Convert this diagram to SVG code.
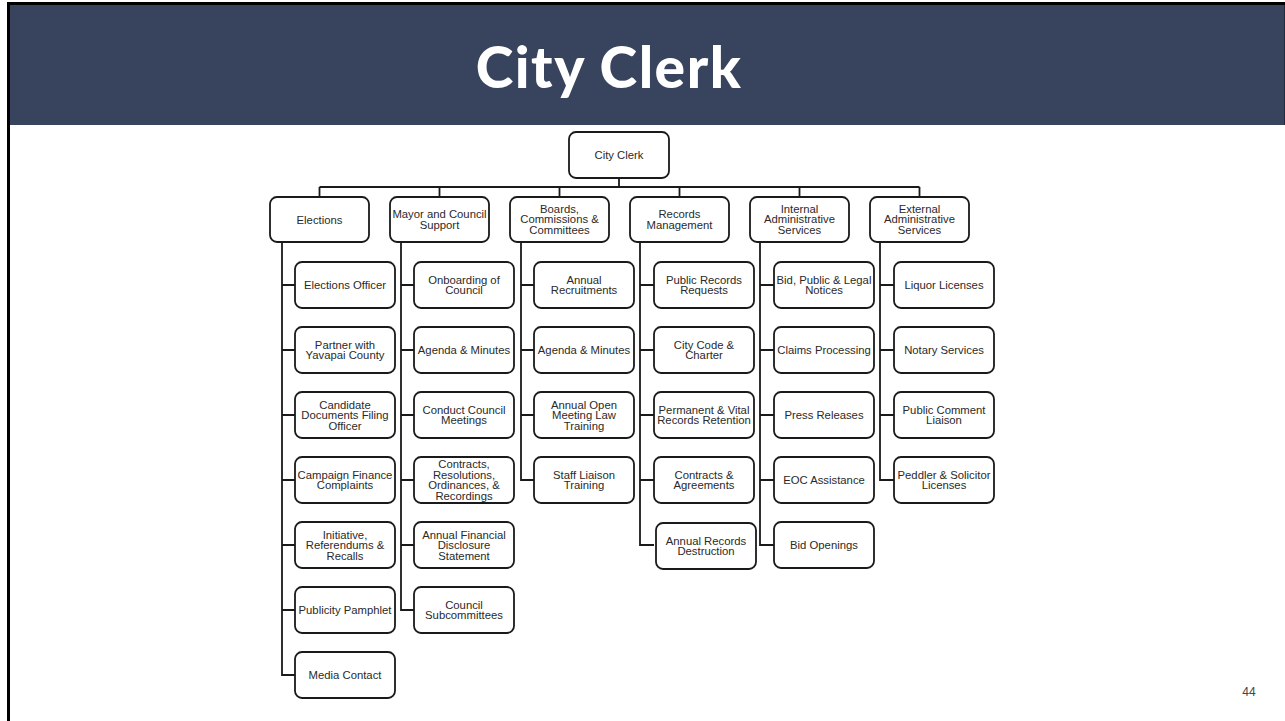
<svg xmlns="http://www.w3.org/2000/svg" width="1285" height="721" viewBox="0 0 1285 721">
<style>
.box{fill:#fff;stroke:#1a1a1a;stroke-width:1.8}
.t{font-family:"Liberation Sans",Arial,sans-serif;font-size:11.3px;fill:#2a2a2a;text-anchor:middle}
.c{fill:none;stroke:#1a1a1a;stroke-width:1.8}
</style>
<rect x="0" y="0" width="1285" height="721" fill="#fff"/>
<rect x="10" y="3" width="1275" height="122" fill="#38435e"/>
<line x1="7" y1="3.5" x2="1285" y2="3.5" stroke="#000" stroke-width="3"/>
<line x1="8.5" y1="2" x2="8.5" y2="721" stroke="#000" stroke-width="3"/>
<line x1="1284.5" y1="5" x2="1284.5" y2="125" stroke="#222b3d" stroke-width="1"/>
<text x="609" y="88" font-family="Lato, 'Open Sans', sans-serif" font-weight="900" font-size="57" letter-spacing="1.5" fill="#fff" text-anchor="middle">City Clerk</text>
<text x="1249" y="696" font-family="'Liberation Sans', Arial, sans-serif" font-size="12" fill="#444" text-anchor="middle">44</text>

<g id="connectors">
<path class="c" d="M619 178V187M319.5 187H919.5M319.5 187V197M439.5 187V197M559.5 187V197M679.5 187V197M799.5 187V197M919.5 187V197"/>
<path class="c" d="M282 242V675H295M282 285H295M282 350H295M282 415H295M282 480H295M282 545H295M282 610H295"/>
<path class="c" d="M401 242V610H414M401 285H414M401 350H414M401 415H414M401 480H414M401 545H414"/>
<path class="c" d="M521 242V480H534M521 285H534M521 350H534M521 415H534"/>
<path class="c" d="M640 242V545H654M640 285H654M640 350H654M640 415H654M640 480H654"/>
<path class="c" d="M760 242V545H774M760 285H774M760 350H774M760 415H774M760 480H774"/>
<path class="c" d="M880 242V480H894M880 285H894M880 350H894M880 415H894"/>
</g>

<g id="city-clerk"><rect class="box" x="569" y="132" width="100" height="46" rx="7"/><text class="t" x="619" y="159">City Clerk</text></g>

<g id="elections"><rect class="box" x="270" y="197" width="99" height="45" rx="7"/><text class="t" x="319.5" y="224">Elections</text></g>
<g id="mayor-council"><rect class="box" x="390" y="197" width="99" height="45" rx="7"/><text class="t" x="439.5" y="218"><tspan x="439.5">Mayor and Council</tspan><tspan x="439.5" dy="10.5">Support</tspan></text></g>
<g id="boards"><rect class="box" x="510" y="197" width="99" height="45" rx="7"/><text class="t" x="559.5" y="212.5"><tspan x="559.5">Boards,</tspan><tspan x="559.5" dy="10.5">Commissions &amp;</tspan><tspan x="559.5" dy="10.5">Committees</tspan></text></g>
<g id="records"><rect class="box" x="630" y="197" width="99" height="45" rx="7"/><text class="t" x="679.5" y="218"><tspan x="679.5">Records</tspan><tspan x="679.5" dy="10.5">Management</tspan></text></g>
<g id="internal"><rect class="box" x="750" y="197" width="99" height="45" rx="7"/><text class="t" x="799.5" y="212.5"><tspan x="799.5">Internal</tspan><tspan x="799.5" dy="10.5">Administrative</tspan><tspan x="799.5" dy="10.5">Services</tspan></text></g>
<g id="external"><rect class="box" x="870" y="197" width="99" height="45" rx="7"/><text class="t" x="919.5" y="212.5"><tspan x="919.5">External</tspan><tspan x="919.5" dy="10.5">Administrative</tspan><tspan x="919.5" dy="10.5">Services</tspan></text></g>

<!-- Elections children -->
<g id="e1"><rect class="box" x="295" y="262" width="100" height="46" rx="7"/><text class="t" x="345" y="289">Elections Officer</text></g>
<g id="e2"><rect class="box" x="295" y="327" width="100" height="46" rx="7"/><text class="t" y="348.8"><tspan x="345">Partner with</tspan><tspan x="345" dy="10.5">Yavapai County</tspan></text></g>
<g id="e3"><rect class="box" x="295" y="392" width="100" height="46" rx="7"/><text class="t" y="408.5"><tspan x="345">Candidate</tspan><tspan x="345" dy="10.5">Documents Filing</tspan><tspan x="345" dy="10.5">Officer</tspan></text></g>
<g id="e4"><rect class="box" x="295" y="457" width="100" height="46" rx="7"/><text class="t" y="478.8"><tspan x="345">Campaign Finance</tspan><tspan x="345" dy="10.5">Complaints</tspan></text></g>
<g id="e5"><rect class="box" x="295" y="522" width="100" height="46" rx="7"/><text class="t" y="538.5"><tspan x="345">Initiative,</tspan><tspan x="345" dy="10.5">Referendums &amp;</tspan><tspan x="345" dy="10.5">Recalls</tspan></text></g>
<g id="e6"><rect class="box" x="295" y="587" width="100" height="46" rx="7"/><text class="t" x="345" y="614">Publicity Pamphlet</text></g>
<g id="e7"><rect class="box" x="295" y="652" width="100" height="46" rx="7"/><text class="t" x="345" y="679">Media Contact</text></g>

<!-- Mayor children -->
<g id="m1"><rect class="box" x="414" y="262" width="100" height="46" rx="7"/><text class="t" y="283.8"><tspan x="464">Onboarding of</tspan><tspan x="464" dy="10.5">Council</tspan></text></g>
<g id="m2"><rect class="box" x="414" y="327" width="100" height="46" rx="7"/><text class="t" x="464" y="354">Agenda &amp; Minutes</text></g>
<g id="m3"><rect class="box" x="414" y="392" width="100" height="46" rx="7"/><text class="t" y="413.8"><tspan x="464">Conduct Council</tspan><tspan x="464" dy="10.5">Meetings</tspan></text></g>
<g id="m4"><rect class="box" x="414" y="457" width="100" height="46" rx="7"/><text class="t" y="468.2"><tspan x="464">Contracts,</tspan><tspan x="464" dy="10.5">Resolutions,</tspan><tspan x="464" dy="10.5">Ordinances, &amp;</tspan><tspan x="464" dy="10.5">Recordings</tspan></text></g>
<g id="m5"><rect class="box" x="414" y="522" width="100" height="46" rx="7"/><text class="t" y="538.5"><tspan x="464">Annual Financial</tspan><tspan x="464" dy="10.5">Disclosure</tspan><tspan x="464" dy="10.5">Statement</tspan></text></g>
<g id="m6"><rect class="box" x="414" y="587" width="100" height="46" rx="7"/><text class="t" y="608.8"><tspan x="464">Council</tspan><tspan x="464" dy="10.5">Subcommittees</tspan></text></g>

<!-- Boards children -->
<g id="b1"><rect class="box" x="534" y="262" width="100" height="46" rx="7"/><text class="t" y="283.8"><tspan x="584">Annual</tspan><tspan x="584" dy="10.5">Recruitments</tspan></text></g>
<g id="b2"><rect class="box" x="534" y="327" width="100" height="46" rx="7"/><text class="t" x="584" y="354">Agenda &amp; Minutes</text></g>
<g id="b3"><rect class="box" x="534" y="392" width="100" height="46" rx="7"/><text class="t" y="408.5"><tspan x="584">Annual Open</tspan><tspan x="584" dy="10.5">Meeting Law</tspan><tspan x="584" dy="10.5">Training</tspan></text></g>
<g id="b4"><rect class="box" x="534" y="457" width="100" height="46" rx="7"/><text class="t" y="478.8"><tspan x="584">Staff Liaison</tspan><tspan x="584" dy="10.5">Training</tspan></text></g>

<!-- Records children -->
<g id="r1"><rect class="box" x="654" y="262" width="100" height="46" rx="7"/><text class="t" y="283.8"><tspan x="704">Public Records</tspan><tspan x="704" dy="10.5">Requests</tspan></text></g>
<g id="r2"><rect class="box" x="654" y="327" width="100" height="46" rx="7"/><text class="t" y="348.8"><tspan x="704">City Code &amp;</tspan><tspan x="704" dy="10.5">Charter</tspan></text></g>
<g id="r3"><rect class="box" x="654" y="392" width="100" height="46" rx="7"/><text class="t" y="413.8"><tspan x="704">Permanent &amp; Vital</tspan><tspan x="704" dy="10.5">Records Retention</tspan></text></g>
<g id="r4"><rect class="box" x="654" y="457" width="100" height="46" rx="7"/><text class="t" y="478.8"><tspan x="704">Contracts &amp;</tspan><tspan x="704" dy="10.5">Agreements</tspan></text></g>
<g id="r5"><rect class="box" x="656" y="523" width="100" height="46" rx="7"/><text class="t" y="544.8"><tspan x="706">Annual Records</tspan><tspan x="706" dy="10.5">Destruction</tspan></text></g>

<!-- Internal children -->
<g id="i1"><rect class="box" x="774" y="262" width="100" height="46" rx="7"/><text class="t" y="283.8"><tspan x="824">Bid, Public &amp; Legal</tspan><tspan x="824" dy="10.5">Notices</tspan></text></g>
<g id="i2"><rect class="box" x="774" y="327" width="100" height="46" rx="7"/><text class="t" x="824" y="354">Claims Processing</text></g>
<g id="i3"><rect class="box" x="774" y="392" width="100" height="46" rx="7"/><text class="t" x="824" y="419">Press Releases</text></g>
<g id="i4"><rect class="box" x="774" y="457" width="100" height="46" rx="7"/><text class="t" x="824" y="484">EOC Assistance</text></g>
<g id="i5"><rect class="box" x="774" y="522" width="100" height="46" rx="7"/><text class="t" x="824" y="549">Bid Openings</text></g>

<!-- External children -->
<g id="x1"><rect class="box" x="894" y="262" width="100" height="46" rx="7"/><text class="t" x="944" y="289">Liquor Licenses</text></g>
<g id="x2"><rect class="box" x="894" y="327" width="100" height="46" rx="7"/><text class="t" x="944" y="354">Notary Services</text></g>
<g id="x3"><rect class="box" x="894" y="392" width="100" height="46" rx="7"/><text class="t" y="413.8"><tspan x="944">Public Comment</tspan><tspan x="944" dy="10.5">Liaison</tspan></text></g>
<g id="x4"><rect class="box" x="894" y="457" width="100" height="46" rx="7"/><text class="t" y="478.8"><tspan x="944">Peddler &amp; Solicitor</tspan><tspan x="944" dy="10.5">Licenses</tspan></text></g>
</svg>
